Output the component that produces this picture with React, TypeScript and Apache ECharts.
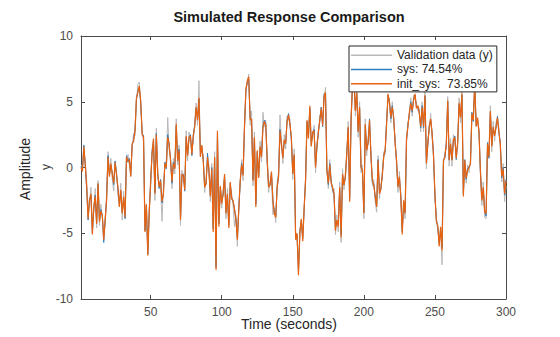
import React, { useEffect, useRef } from "react";
import * as echarts from "echarts";

const xTicks = [50, 100, 150, 200, 250, 300];
const yTicks = [-10, -5, 0, 5, 10];
const seriesNames = ["Validation data (y)", "sys: 74.54%", "init_sys:  73.85%"];

const validation = [
  0.2, 0.0, 1.2, 0.6, -1.0, -3.2, -2.8, -1.5, -4.5, -3.4,
  -1.6, -4.6, -1.0, -4.4, -2.8, -3.8, -5.1, -4.3, -2.0, 1.2,
  -0.3, 0.7, -0.9, -1.8, 0.2, -0.3, -2.2, -2.6, -1.2, -4.0,
  -1.8, -3.5, 0.4, 1.0, 0.2, -0.2, 1.5, 2.6, 2.4, 5.0,
  6.3, 6.5, 4.6, 2.9, 1.9, -4.3, -3.2, -6.2, -3.0, -1.6,
  1.5, 1.8, -2.5, 3.0, -0.9, -1.1, -1.6, -4.1, -1.5, 0.0,
  0.6, 3.8, 1.3, 0.9, -1.6, 0.7, -0.5, 3.7, 0.2, 1.7,
  -4.4, -0.2, -1.0, -1.3, 2.8, 0.5, 2.7, 2.0, 1.4, 2.0,
  3.5, 4.9, 3.2, 6.6, 1.2, 1.3, 0.9, -1.9, -0.8, 0.4,
  0.2, -2.6, 0.3, -4.4, 1.2, -7.2, 2.4, -4.0, -1.8, -3.1,
  -1.6, -0.9, -3.9, -1.6, -4.2, -1.5, -2.0, -2.9, -4.5, -3.6,
  -6.0, -2.8, -1.4, 0.6, -1.0, 2.7, 6.1, 6.3, 7.1, 3.2,
  4.3, -1.4, 2.7, -2.6, 0.9, -0.4, 2.0, 0.4, 4.2, 3.1,
  3.6, 0.2, -1.9, -1.0, -0.7, -3.6, -3.1, -4.2, -1.1, -0.3,
  4.0, 2.2, 0.3, 2.5, 1.4, 3.9, 3.6, 3.7, 1.9, -0.9,
  1.4, -5.0, -5.4, -7.7, -4.6, -4.3, -5.2, -3.4, -0.6, 3.2,
  2.6, 4.3, 2.0, 2.3, 3.2, -0.4, 2.0, 2.3, 4.0, 4.1,
  3.6, 5.0, 6.1, 0.1, -1.6, 0.6, -0.8, -1.9, -1.6, -5.1,
  -3.6, -4.9, -1.1, -5.7, -0.1, -1.7, -0.3, 0.7, 3.5, -2.2,
  4.0, 6.0, 7.3, 3.9, 6.1, 2.3, 5.0, -0.4, 0.2, -3.9,
  3.7, 0.9, 2.3, 3.2, 1.2, -1.4, -0.9, -2.6, -3.4, 0.9,
  -2.4, -1.2, -0.9, 1.2, 1.0, 3.7, 5.2, 5.3, 3.4, 5.0,
  3.4, 2.2, 0.1, -1.9, -0.3, -2.6, -4.7, -2.9, -3.9, 1.8,
  3.5, 3.8, 5.3, 3.9, 5.5, 5.2, 4.9, 4.3, 4.5, 2.7,
  5.0, 2.7, 5.9, -0.1, 2.2, 2.7, 4.1, 2.2, 1.3, -2.5,
  -3.7, -4.8, -5.6, -4.9, -7.4, 0.2, 1.2, 1.4, 5.4, 0.1,
  2.2, 0.1, 2.5, 1.9, 1.1, 1.5, 5.3, 3.4, 6.0, -1.8,
  0.2, -1.2, 0.2, -0.4, 0.7, 3.7, 4.0, 6.0, 3.5, 3.4,
  3.0, -0.6, -2.9, -1.1, -3.8, -3.9, 1.4, 1.2, 4.7, 1.2,
  3.5, 2.0, 3.5, 3.4, 3.1, 1.4, -1.1, 0.3, -2.6, -1.4,
];

const sys = [
  0.1, -0.2, 1.7, 0.1, -1.6, -4.0, -2.4, -2.1, -5.0, -3.1,
  -2.1, -4.2, -1.3, -4.0, -3.2, -3.7, -5.7, -3.9, -2.4, 0.9,
  -0.6, 0.2, -0.4, -1.3, 0.5, -0.5, -1.6, -2.9, -1.8, -3.4,
  -2.3, -3.9, 0.9, 0.4, 0.7, -0.6, 1.7, 2.1, 2.9, 5.2,
  5.8, 6.1, 5.0, 2.6, 2.4, -4.8, -2.9, -6.6, -3.4, -1.1,
  1.1, 2.1, -1.9, 2.6, -0.4, -1.6, -0.9, -2.7, -1.9, 0.4,
  -0.1, 2.5, 1.7, 0.6, -1.2, 0.4, 0.0, 3.1, 0.6, 1.4,
  -3.9, -0.6, -0.5, -1.8, 2.3, 1.0, 2.2, 2.5, 0.9, 2.5,
  3.2, 4.5, 3.7, 5.2, 0.9, 1.6, 0.6, -1.4, -1.3, 1.1,
  -0.3, -2.1, 0.0, -4.7, 0.7, -7.6, 2.6, -4.3, -1.5, -2.6,
  -2.1, -0.6, -3.4, -2.1, -4.4, -1.2, -2.3, -2.6, -3.1, -3.9,
  -5.3, -3.3, -1.1, 0.3, -0.5, 3.0, 5.8, 6.5, 6.7, 3.8,
  3.6, -0.9, 2.2, -2.8, 1.2, -0.7, 1.5, 0.9, 3.1, 3.6,
  3.3, 0.5, -1.4, -1.3, -0.4, -2.4, -3.4, -3.7, -1.6, -0.6,
  2.9, 1.7, 0.8, 2.0, 1.9, 3.6, 4.1, 3.2, 2.2, -0.4,
  0.9, -5.3, -5.1, -7.9, -4.9, -4.0, -5.4, -3.1, -0.9, 3.5,
  2.3, 4.5, 1.7, 2.6, 2.9, 0.1, 1.5, 2.8, 3.5, 4.6,
  3.1, 5.6, 5.6, -0.2, -1.3, 0.3, -1.1, -1.6, -2.1, -4.6,
  -4.1, -4.3, -1.6, -5.1, -0.6, -1.3, -0.8, 1.2, 3.0, -2.4,
  3.5, 6.3, 6.9, 4.4, 5.6, 2.8, 4.5, 0.1, -0.3, -3.4,
  3.2, 1.4, 1.8, 3.7, 0.9, -1.1, -1.3, -2.3, -2.9, 0.6,
  -1.9, -1.7, -0.4, 0.9, 1.3, 3.4, 5.5, 5.0, 3.7, 4.7,
  3.7, 1.9, 0.5, -1.4, -0.8, -2.1, -4.9, -2.6, -3.4, 2.1,
  3.2, 4.1, 5.0, 4.2, 5.2, 5.5, 4.6, 4.6, 4.2, 3.0,
  4.7, 3.0, 5.4, 0.4, 1.7, 3.2, 3.6, 2.7, 0.8, -2.1,
  -4.0, -4.5, -5.8, -4.6, -6.1, 0.6, 0.7, 1.9, 5.0, 0.6,
  1.7, 0.6, 2.0, 2.4, 0.6, 2.0, 4.8, 3.9, 5.5, -2.0,
  0.6, -0.9, -0.1, 0.1, 0.2, 4.2, 3.5, 6.3, 3.2, 3.7,
  2.7, -0.3, -2.4, -1.6, -3.3, -3.7, 1.9, 0.7, 4.2, 1.7,
  3.0, 2.5, 3.0, 3.9, 2.6, 1.9, -0.8, 0.0, -2.1, -0.9,
];

const initSys = [
  0.0, -0.3, 1.6, 0.2, -1.5, -3.9, -2.5, -2.0, -5.1, -3.0,
  -2.2, -4.3, -1.2, -4.1, -3.3, -3.6, -5.5, -4.0, -2.5, 0.8,
  -0.7, 0.3, -0.5, -1.2, 0.4, -0.6, -1.5, -3.0, -1.7, -3.5,
  -2.2, -3.8, 0.8, 0.5, 0.6, -0.7, 1.8, 2.0, 2.8, 5.3,
  5.7, 6.2, 5.1, 2.5, 2.3, -4.9, -2.8, -6.7, -3.5, -1.0,
  1.0, 2.2, -2.0, 2.5, -0.5, -1.5, -1.0, -2.6, -2.0, 0.3,
  0.0, 2.3, 1.8, 0.5, -1.1, 0.3, -0.1, 3.3, 0.5, 1.3,
  -4.0, -0.5, -0.6, -1.7, 2.4, 0.9, 2.3, 2.4, 1.0, 2.4,
  3.1, 4.6, 3.6, 5.3, 0.8, 1.7, 0.5, -1.5, -1.2, 0.8,
  -0.2, -2.2, -0.1, -4.9, 0.8, -7.8, 2.8, -4.5, -1.4, -2.75,
  -2.0, -0.5, -3.5, -2.0, -4.6, -1.1, -2.4, -2.5, -3.2, -4.0,
  -5.5, -3.2, -1.0, 0.2, -0.6, 3.1, 5.9, 6.6, 6.9, 3.6,
  3.7, -1.0, 2.3, -3.0, 1.3, -0.8, 1.6, 0.8, 3.0, 3.5,
  3.2, 0.6, -1.5, -1.35, -0.3, -2.5, -3.5, -3.8, -1.5, -0.7,
  2.8, 1.8, 0.7, 2.1, 1.8, 3.5, 4.0, 3.3, 2.3, -0.5,
  1.0, -5.5, -5.0, -8.2, -5.0, -3.9, -5.6, -3.0, -1.0, 3.6,
  2.2, 4.7, 1.6, 2.7, 2.8, 0.0, 1.6, 2.7, 3.6, 4.5,
  3.2, 5.4, 5.7, -0.3, -1.2, 0.2, -1.2, -1.5, -2.0, -4.8,
  -4.0, -4.5, -1.5, -5.3, -0.5, -1.35, -0.7, 1.1, 3.1, -2.6,
  3.6, 6.4, 7.0, 4.3, 5.7, 2.7, 4.6, 0.0, -0.2, -3.5,
  3.3, 1.3, 1.9, 3.6, 0.8, -1.0, -1.35, -2.2, -3.0, 0.55,
  -2.0, -1.6, -0.5, 0.8, 1.4, 3.3, 5.6, 4.9, 3.8, 4.6,
  3.8, 1.8, 0.55, -1.5, -0.7, -2.2, -5.1, -2.5, -3.5, 2.2,
  3.1, 4.2, 4.9, 4.3, 5.1, 5.6, 4.5, 4.7, 4.1, 3.1,
  4.6, 3.1, 5.5, 0.3, 1.8, 3.1, 3.7, 2.6, 0.9, -2.0,
  -4.1, -4.4, -6.0, -4.5, -6.3, 0.55, 0.8, 1.8, 5.1, 0.55,
  1.8, 0.55, 2.1, 2.3, 0.7, 1.9, 4.9, 3.8, 5.6, -2.2,
  0.55, -0.8, -0.2, 0.0, 0.3, 4.1, 3.6, 6.4, 3.1, 3.8,
  2.6, -0.2, -2.5, -1.5, -3.4, -3.5, 1.8, 0.8, 4.3, 1.6,
  3.1, 2.4, 3.1, 3.8, 2.7, 1.8, -0.7, -0.1, -2.0, -1.0,
];

const time = validation.map((_, i) => i + 1);

const FONT = '"Liberation Sans", Arial, Helvetica, sans-serif';
const AXIS_COLOR = "#4a4a4a";
const LABEL_COLOR = "#4d4d4d";

export default function App() {
  const ref = useRef<HTMLDivElement>(null);
  useEffect(() => {
    if (!ref.current) return;
    const chart = echarts.init(ref.current, undefined, { renderer: "svg" });
    const pair = (arr: number[]) => time.map((t, i) => [t, arr[i]]);
    const xCommon = {
      type: "value",
      min: time[0],
      max: time[time.length - 1],
      splitLine: { show: false },
      axisLine: { show: true, onZero: false, lineStyle: { color: AXIS_COLOR, width: 1 } },
      axisTick: { show: true, inside: true, length: 4, customValues: xTicks, lineStyle: { color: AXIS_COLOR } },
    };
    const yCommon = {
      type: "value",
      min: yTicks[0],
      max: yTicks[yTicks.length - 1],
      interval: 5,
      splitLine: { show: false },
      axisLine: { show: true, onZero: false, lineStyle: { color: AXIS_COLOR, width: 1 } },
      axisTick: { show: true, inside: true, length: 4, lineStyle: { color: AXIS_COLOR } },
    };
    chart.setOption({
      animation: false,
      backgroundColor: "#ffffff",
      textStyle: { fontFamily: FONT },
      grid: { left: 81, top: 36, width: 425, height: 263, containLabel: false },
      xAxis: [
        {
          ...xCommon,
          position: "bottom",
          axisLabel: { show: true, customValues: xTicks, margin: 7, fontSize: 12, color: LABEL_COLOR, fontFamily: FONT },
        },
        { ...xCommon, position: "top", axisLabel: { show: false } },
      ],
      yAxis: [
        {
          ...yCommon,
          position: "left",
          axisLabel: { show: true, margin: 8, fontSize: 12, color: LABEL_COLOR, fontFamily: FONT },
        },
        { ...yCommon, position: "right", axisLabel: { show: false } },
      ],
      legend: {
        orient: "vertical",
        left: 349,
        top: 46,
        padding: [3, 4, 2, 2],
        itemWidth: 41,
        itemHeight: 1.5,
        itemGap: 2,
        icon: "rect",
        backgroundColor: "#ffffff",
        borderColor: "#262626",
        borderWidth: 1,
        borderRadius: 0,
        z: 10,
        textStyle: { fontSize: 12, color: "#262626", fontFamily: FONT, lineHeight: 12.3 },
        data: seriesNames,
      },
      graphic: [
        {
          type: "text",
          x: 289,
          y: 17,
          style: {
            text: "Simulated Response Comparison",
            align: "center",
            verticalAlign: "middle",
            fontSize: 14.5,
            fontWeight: "bold",
            fontFamily: FONT,
            fill: "#1a1a1a",
          },
        },
        {
          type: "text",
          x: 25,
          y: 169,
          rotation: Math.PI / 2,
          style: {
            text: "Amplitude",
            align: "center",
            verticalAlign: "middle",
            fontSize: 14,
            fontFamily: FONT,
            fill: "#262626",
          },
        },
        {
          type: "text",
          x: 46,
          y: 167,
          rotation: Math.PI / 2,
          style: {
            text: "y",
            align: "center",
            verticalAlign: "middle",
            fontSize: 12,
            fontFamily: FONT,
            fill: "#404040",
          },
        },
        {
          type: "text",
          x: 289,
          y: 324,
          style: {
            text: "Time (seconds)",
            align: "center",
            verticalAlign: "middle",
            fontSize: 14,
            fontFamily: FONT,
            fill: "#262626",
          },
        },
      ],
      series: [
        {
          name: seriesNames[0],
          type: "line",
          data: pair(validation),
          showSymbol: false,
          symbol: "none",
          color: "#b8b8b8",
          lineStyle: { width: 1, color: "#b8b8b8" },
          z: 2,
        },
        {
          name: seriesNames[1],
          type: "line",
          data: pair(sys),
          showSymbol: false,
          symbol: "none",
          color: "#2f7fc1",
          lineStyle: { width: 1, color: "#2f7fc1" },
          z: 3,
        },
        {
          name: seriesNames[2],
          type: "line",
          data: pair(initSys),
          showSymbol: false,
          symbol: "none",
          color: "#e8620f",
          lineStyle: { width: 1.2, color: "#e8620f" },
          z: 4,
        },
      ],
    });
    return () => chart.dispose();
  }, []);
  return (
    <div
      ref={ref}
      style={{ position: "fixed", left: 0, top: 0, width: 560, height: 337, background: "#fff" }}
    />
  );
}
